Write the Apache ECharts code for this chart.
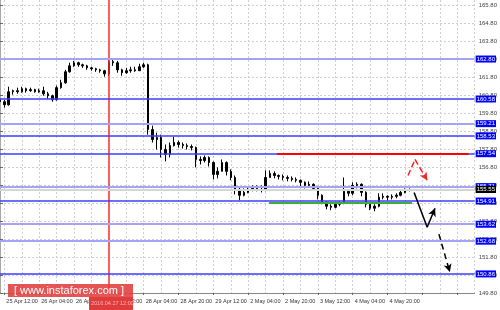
<!DOCTYPE html>
<html><head><meta charset="utf-8">
<script src="https://cdn.jsdelivr.net/npm/echarts@6/dist/echarts.min.js"></script>
<style>html,body{margin:0;padding:0;background:#fff}#c{width:500px;height:310px}</style>
</head><body><div id="c"></div>
<script>
// ---- data ----
const slotCount = 110; // 2-hour slots across the visible window
const tickIdx = [1, 9, 17, 25, 33, 41, 49, 57, 65, 73, 81, 89];
const tickLabels = ['25 Apr 12:00','26 Apr 04:00','26 Apr 20:00','27 Apr 12:00','28 Apr 04:00','28 Apr 20:00',
  '29 Apr 12:00','2 May 04:00','2 May 20:00','3 May 12:00','4 May 04:00','4 May 20:00'];
const yTicks = [149.8,150.8,151.8,152.8,153.8,154.8,155.8,156.8,157.8,158.8,159.8,160.8,161.8,162.8,163.8,164.8,165.8];
// [open, close, low, high]
const candles = [
 [160.54,160.43,160.32,160.60],[160.43,160.26,160.10,160.54],[160.26,160.98,160.21,161.26],[160.98,161.04,160.82,161.10],
 [161.04,160.98,160.87,161.21],[160.98,161.15,160.93,161.26],[161.15,161.04,160.93,161.21],[161.04,161.10,160.98,161.21],
 [161.10,160.98,160.93,161.15],[160.98,161.04,160.93,161.15],[161.04,160.87,160.76,161.26],[160.87,160.76,160.60,160.98],
 [160.76,160.54,160.43,160.82],[160.54,161.21,160.49,161.32],[161.21,161.48,161.15,161.65],[161.48,162.09,161.43,162.20],
 [162.09,162.42,162.04,162.59],[162.42,162.59,162.37,162.70],[162.59,162.48,162.37,162.65],[162.48,162.42,162.31,162.54],
 [162.42,162.31,162.20,162.48],[162.31,162.26,162.15,162.37],[162.26,162.20,162.09,162.31],[162.20,162.15,162.04,162.26],
 [162.15,161.98,161.82,162.20],[161.98,162.65,161.87,162.76],[162.65,162.59,162.42,162.81],[162.59,162.20,162.04,162.70],
 [162.20,162.04,161.87,162.26],[162.04,162.15,161.98,162.31],[162.15,162.20,162.04,162.37],[162.20,162.15,162.09,162.37],
 [162.15,162.37,162.15,162.54],[162.37,162.48,162.31,162.59],[162.48,158.88,158.60,162.54],[158.88,158.33,158.16,159.10],
 [158.33,158.44,157.77,158.71],[158.44,157.77,157.33,158.60],[157.77,157.50,157.11,158.05],[157.50,157.99,157.33,158.16],
 [157.99,158.16,157.94,158.49],[158.16,158.05,157.88,158.27],[158.05,157.99,157.83,158.16],[157.99,157.94,157.77,158.11],
 [157.94,157.88,157.72,158.05],[157.88,157.22,156.78,157.94],[157.22,157.16,156.94,157.39],[157.16,157.33,157.05,157.44],
 [157.33,157.05,156.83,157.39],[157.05,156.39,156.11,157.11],[156.39,156.56,156.17,156.78],[156.56,157.05,156.56,157.22],
 [157.05,156.56,156.33,157.11],[156.56,156.22,156.06,156.67],[156.22,155.56,155.28,156.33],[155.56,155.23,154.95,155.67],
 [155.23,155.39,155.17,155.61],[155.39,155.56,155.34,155.72],[155.56,155.61,155.45,155.78],[155.61,155.56,155.45,155.78],
 [155.56,155.50,155.39,155.78],[155.50,156.22,155.45,156.61],[156.22,156.44,156.22,156.61],[156.44,156.33,156.17,156.56],
 [156.33,156.28,156.11,156.39],[156.28,156.22,156.06,156.39],[156.22,156.17,156.00,156.33],[156.17,156.11,156.00,156.28],
 [156.11,156.06,155.95,156.22],[156.06,155.95,155.72,156.11],[155.95,155.78,155.61,156.00],[155.78,155.84,155.67,156.00],
 [155.84,155.61,155.50,155.89],[155.61,155.23,155.00,155.67],[155.23,154.84,154.73,155.28],[154.84,154.62,154.45,154.89],
 [154.62,154.56,154.40,154.73],[154.56,154.73,154.51,154.84],[154.73,154.78,154.62,154.89],[154.78,155.45,154.73,156.22],
 [155.45,155.34,155.17,155.56],[155.34,155.78,155.23,155.95],[155.78,155.84,155.61,155.95],[155.84,155.39,155.17,155.89],
 [155.39,154.73,154.56,155.45],[154.73,154.51,154.40,154.78],[154.51,154.62,154.34,154.73],[154.62,155.12,154.56,155.34],
 [155.12,155.17,155.00,155.34],[155.17,155.12,154.95,155.23],[155.12,155.17,155.00,155.28],[155.17,155.23,155.06,155.34],
 [155.23,155.39,155.17,155.50],[155.39,155.50,155.34,155.61],[155.50,155.55,155.45,155.61]
];
const levelsDark = [160.58, 158.53, 157.54, 154.91, 150.86];
const levelsLight = [162.80, 159.21, 155.71, 153.62, 152.68];
const lastPrice = 155.55;
const resistanceSeg = [[63.6, 157.54], [107.6, 157.54]];
const supportSeg = [[61.8, 154.83], [94.6, 154.83]];
const crosshairIdx = 25;
const crosshairText = '2016.04.27 12:00';
const redArrow = [[93.7, 156.33], [95.3, 157.22], [98.1, 156.06]];
const blackArrow1 = [[95.1, 155.39], [98.1, 153.45], [99.9, 154.51]];
const blackArrow2 = [[100.8, 153.07], [103.3, 150.96]];

// ---- build ----
const yMin = 149.8, yMax = 166.08;
const xMax = slotCount - 1;
const categories = [];
for (let i = 0; i < slotCount; i++) categories.push('');
tickIdx.forEach((ix, k) => { categories[ix] = tickLabels[k]; });

function polySegs(pts, style) {
  const segs = [];
  for (let i = 0; i < pts.length - 1; i++) {
    const last = i === pts.length - 2;
    segs.push([{coord: pts[i], symbol: 'none', lineStyle: style},
               {coord: pts[i + 1], symbol: last ? 'arrow' : 'none', symbolSize: [6, 8]}]);
  }
  return segs;
}
function level(v, color, width, bg) {
  const lab = {show: true, position: 'end', distance: 1, formatter: v.toFixed(2),
    backgroundColor: bg, color: '#fff', fontSize: 6, lineHeight: 7, padding: [0, 1, 0, 1], fontFamily: 'Liberation Sans'};
  return [{coord: [0, v], lineStyle: {color: color, width: width, type: 'solid', opacity: 1}, label: lab}, {coord: [xMax, v]}];
}

const chart = echarts.init(document.getElementById('c'), null, {renderer: 'canvas'});
chart.setOption({
  animation: false,
  backgroundColor: '#fff',
  grid: {left: 0, right: 22, top: 0, bottom: 17, containLabel: false},
  xAxis: [{
    type: 'category', data: categories, boundaryGap: false,
    axisLine: {lineStyle: {color: '#888', width: 1}},
    axisTick: {show: true, length: 2, interval: (i) => (i - 1) % 8 === 0, lineStyle: {color: '#666'}},
    axisLabel: {interval: (i, v) => v !== '', align: 'left', margin: 5, fontSize: 5.5, color: '#333',
      fontFamily: 'Liberation Sans', padding: [0, 0, 0, 2]},
    splitLine: {show: true, interval: (i) => (i - 1) % 4 === 0 && i !== crosshairIdx,
      lineStyle: {color: '#cfcfcf', type: [2, 2], width: 1}}
  }, {
    type: 'value', min: 0, max: xMax, show: false
  }],
  yAxis: {
    type: 'value', position: 'right', min: yMin, max: yMax,
    axisLine: {show: true, lineStyle: {color: '#a8a8a8', width: 2}},
    axisTick: {show: true, length: 3, customValues: yTicks, lineStyle: {color: '#666'}},
    axisLabel: {customValues: yTicks, formatter: v => v.toFixed(2), fontSize: 6, color: '#444', margin: 4,
      fontFamily: 'Liberation Sans'},
    splitLine: {show: true, lineStyle: {color: '#cfcfcf', type: [2, 2], width: 1}}
  },
  series: [{
    type: 'line', xAxisIndex: 1, data: [], showSymbol: false, z: 1,
    markLine: {
      silent: true, symbol: ['none', 'none'], animation: false, label: {show: false},
      data: [
        [{coord: [crosshairIdx, yMin], lineStyle: {color: '#ff2a2a', width: 1.5, type: 'solid'}}, {coord: [crosshairIdx, yMax]}],
        ...levelsLight.map(v => level(v, '#a4a4f4', 2, '#0000ff')),
        ...levelsDark.map(v => level(v, '#3c3cff', 1.5, '#0000ff')),
        level(lastPrice, '#d6d6d6', 2, '#000000')
      ]
    }
  }, {
    type: 'candlestick', data: candles, barWidth: 2, z: 3,
    itemStyle: {color: '#000000', color0: '#000000', borderColor: '#000000', borderColor0: '#000000', borderWidth: 1}
  }, {
    type: 'line', xAxisIndex: 1, data: [], showSymbol: false, z: 4,
    markLine: {
      silent: true, symbol: ['none', 'none'], animation: false, label: {show: false},
      data: [
        [{coord: resistanceSeg[0], lineStyle: {color: '#ff0000', width: 2, type: 'solid'}}, {coord: resistanceSeg[1]}],
        [{coord: supportSeg[0], lineStyle: {color: '#3cae3c', width: 2, type: 'solid'}}, {coord: supportSeg[1]}],
        ...polySegs(redArrow, {color: '#ff2020', width: 1.5, type: [6, 3]}),
        ...polySegs(blackArrow1, {color: '#000', width: 1.5, type: 'solid'}),
        ...polySegs(blackArrow2, {color: '#000', width: 1.5, type: [6, 4]})
      ]
    }
  }],
  graphic: [
    {type: 'rect', left: 8, top: 284, shape: {width: 125, height: 13}, style: {fill: 'rgba(226,62,62,0.88)'}, z: 100},
    {type: 'text', left: 14, top: 285, style: {text: '[ www.instaforex.com ]', fill: '#ffffff', font: '11px "Liberation Sans"'}, z: 101},
    {type: 'rect', left: 89, top: 297, shape: {width: 44, height: 13}, style: {fill: '#e03c3c'}, z: 100},
    {type: 'text', left: 91, top: 300, style: {text: crosshairText, fill: '#f6b4b4', font: '5.5px "Liberation Sans"'}, z: 101}
  ]
});
</script></body></html>
